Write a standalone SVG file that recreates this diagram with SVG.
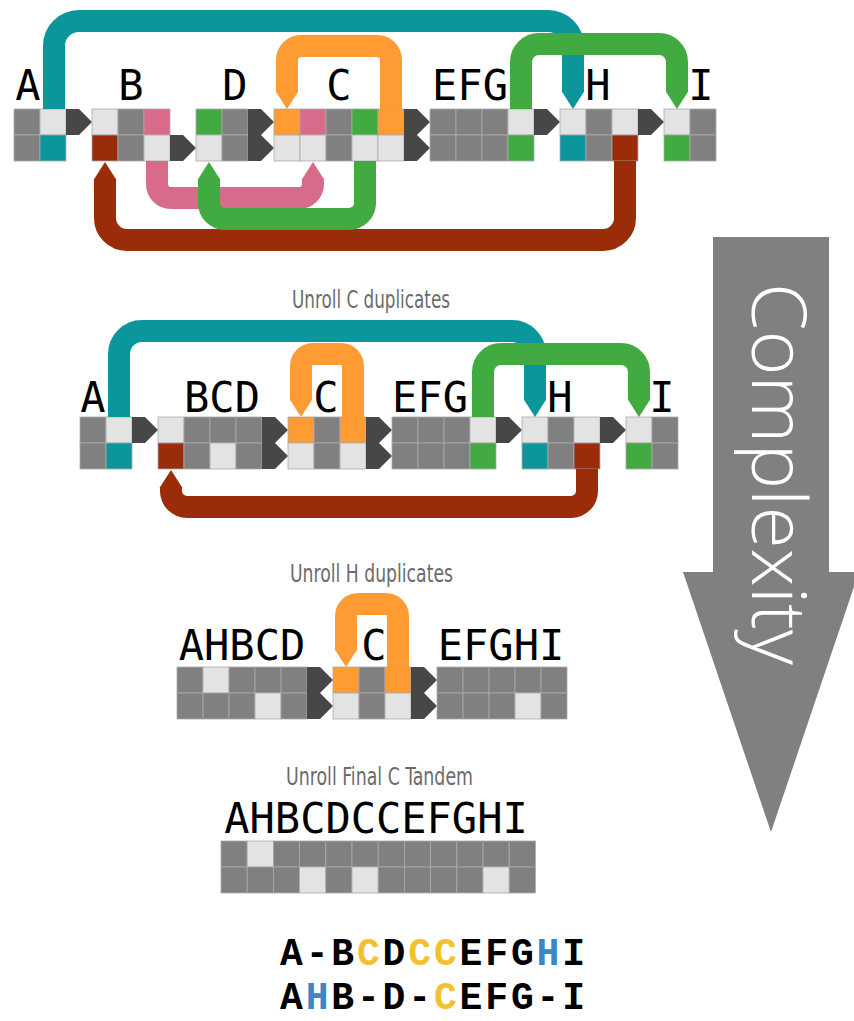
<svg xmlns="http://www.w3.org/2000/svg" xmlns:xlink="http://www.w3.org/1999/xlink" width="854" height="1021" viewBox="0 0 854 1021">
  <style>
    rect{stroke:#ababab;stroke-width:0.8}
    .g{fill:#808080}
    .l{fill:#e3e3e3}
    .te{fill:#0b969c}
    .or{fill:#fe9b33}
    .gr{fill:#41ab42}
    .pk{fill:#d76b89}
    .rd{fill:#9a2c0a}
    .ar{fill:#474747}
    .band{fill:none;stroke-width:22;stroke-linecap:butt}
    .s-te{stroke:#0b969c}
    .s-or{stroke:#fe9b33}
    .s-gr{stroke:#41ab42}
    .s-pk{stroke:#d76b89}
    .s-rd{stroke:#9a2c0a}
    .lbl{font-family:"DejaVu Sans Mono","Liberation Mono",monospace;font-size:42px;fill:#000;text-anchor:middle}
    .ttl{font-family:"Liberation Sans Narrow","DejaVu Sans Condensed","Roboto Condensed",sans-serif;font-size:24px;fill:#6b6b6b}
    .seq{font-family:"Liberation Mono","Courier New",monospace;font-weight:bold;font-size:38px;fill:#000}
    .hc{fill:#f3c12f}
    .hh{fill:#3d87c9}
  </style>
  <defs>
    <path id="arw" d="M0,0H13L26,13L13,26H0Z"/>
    <path id="tipDown" d="M-11.5,0H11.5L0,18Z"/>
    <path id="tipUp" d="M-11.5,0H11.5L0,-18Z"/>
  </defs>

  <!-- ===== Row 1: full graph ===== -->
  <g id="r1-A">
    <rect class="g" x="14" y="109" width="26" height="26"/><rect class="g" x="14" y="135" width="26" height="26"/>
    <rect class="l" x="40" y="109" width="26" height="26"/><rect class="te" x="40" y="135" width="26" height="26"/>
    <use href="#arw" class="ar" x="66" y="109"/>
    <text class="lbl" x="28" y="100">A</text>
  </g>
  <g id="r1-B">
    <rect class="l" x="92" y="109" width="26" height="26"/><rect class="rd" x="92" y="135" width="26" height="26"/>
    <rect class="g" x="118" y="109" width="26" height="26"/><rect class="g" x="118" y="135" width="26" height="26"/>
    <rect class="pk" x="144" y="109" width="26" height="26"/><rect class="l" x="144" y="135" width="26" height="26"/>
    <use href="#arw" class="ar" x="170" y="135"/>
    <text class="lbl" x="131" y="100">B</text>
  </g>
  <g id="r1-D">
    <rect class="gr" x="196" y="109" width="26" height="26"/><rect class="l" x="196" y="135" width="26" height="26"/>
    <rect class="g" x="222" y="109" width="26" height="26"/><rect class="g" x="222" y="135" width="26" height="26"/>
    <use href="#arw" class="ar" x="248" y="109"/><use href="#arw" class="ar" x="248" y="135"/>
    <text class="lbl" x="235" y="100">D</text>
  </g>
  <g id="r1-C">
    <rect class="or" x="274" y="109" width="26" height="26"/><rect class="l" x="274" y="135" width="26" height="26"/>
    <rect class="pk" x="300" y="109" width="26" height="26"/><rect class="l" x="300" y="135" width="26" height="26"/>
    <rect class="g" x="326" y="109" width="26" height="26"/><rect class="g" x="326" y="135" width="26" height="26"/>
    <rect class="gr" x="352" y="109" width="26" height="26"/><rect class="l" x="352" y="135" width="26" height="26"/>
    <rect class="or" x="378" y="109" width="26" height="26"/><rect class="l" x="378" y="135" width="26" height="26"/>
    <use href="#arw" class="ar" x="404" y="109"/><use href="#arw" class="ar" x="404" y="135"/>
    <text class="lbl" x="339" y="100">C</text>
  </g>
  <g id="r1-EFG">
    <rect class="g" x="430" y="109" width="26" height="26"/><rect class="g" x="430" y="135" width="26" height="26"/>
    <rect class="g" x="456" y="109" width="26" height="26"/><rect class="g" x="456" y="135" width="26" height="26"/>
    <rect class="g" x="482" y="109" width="26" height="26"/><rect class="g" x="482" y="135" width="26" height="26"/>
    <rect class="l" x="508" y="109" width="26" height="26"/><rect class="gr" x="508" y="135" width="26" height="26"/>
    <use href="#arw" class="ar" x="534" y="109"/>
    <text class="lbl" x="470" y="100">EFG</text>
  </g>
  <g id="r1-H">
    <rect class="l" x="560" y="109" width="26" height="26"/><rect class="te" x="560" y="135" width="26" height="26"/>
    <rect class="g" x="586" y="109" width="26" height="26"/><rect class="g" x="586" y="135" width="26" height="26"/>
    <rect class="l" x="612" y="109" width="26" height="26"/><rect class="rd" x="612" y="135" width="26" height="26"/>
    <use href="#arw" class="ar" x="638" y="109"/>
    <text class="lbl" x="598" y="100">H</text>
  </g>
  <g id="r1-I">
    <rect class="l" x="664" y="109" width="26" height="26"/><rect class="gr" x="664" y="135" width="26" height="26"/>
    <rect class="g" x="690" y="109" width="26" height="26"/><rect class="g" x="690" y="135" width="26" height="26"/>
    <text class="lbl" x="701" y="100">I</text>
  </g>

  <!-- ===== Row 2: C duplicates unrolled ===== -->
  <text class="ttl" x="292" y="308" textLength="158" lengthAdjust="spacingAndGlyphs">Unroll C duplicates</text>
  <g id="r2-A">
    <rect class="g" x="80" y="417" width="26" height="26"/><rect class="g" x="80" y="443" width="26" height="26"/>
    <rect class="l" x="106" y="417" width="26" height="26"/><rect class="te" x="106" y="443" width="26" height="26"/>
    <use href="#arw" class="ar" x="132" y="417"/>
    <text class="lbl" x="93" y="412">A</text>
  </g>
  <g id="r2-BCD">
    <rect class="l" x="158" y="417" width="26" height="26"/><rect class="rd" x="158" y="443" width="26" height="26"/>
    <rect class="g" x="184" y="417" width="26" height="26"/><rect class="g" x="184" y="443" width="26" height="26"/>
    <rect class="g" x="210" y="417" width="26" height="26"/><rect class="l" x="210" y="443" width="26" height="26"/>
    <rect class="g" x="236" y="417" width="26" height="26"/><rect class="g" x="236" y="443" width="26" height="26"/>
    <use href="#arw" class="ar" x="262" y="417"/><use href="#arw" class="ar" x="262" y="443"/>
    <text class="lbl" x="222" y="412">BCD</text>
  </g>
  <g id="r2-C">
    <rect class="or" x="288" y="417" width="26" height="26"/><rect class="l" x="288" y="443" width="26" height="26"/>
    <rect class="g" x="314" y="417" width="26" height="26"/><rect class="g" x="314" y="443" width="26" height="26"/>
    <rect class="or" x="340" y="417" width="26" height="26"/><rect class="l" x="340" y="443" width="26" height="26"/>
    <use href="#arw" class="ar" x="366" y="417"/><use href="#arw" class="ar" x="366" y="443"/>
    <text class="lbl" x="326" y="412">C</text>
  </g>
  <g id="r2-EFG">
    <rect class="g" x="392" y="417" width="26" height="26"/><rect class="g" x="392" y="443" width="26" height="26"/>
    <rect class="g" x="418" y="417" width="26" height="26"/><rect class="g" x="418" y="443" width="26" height="26"/>
    <rect class="g" x="444" y="417" width="26" height="26"/><rect class="g" x="444" y="443" width="26" height="26"/>
    <rect class="l" x="470" y="417" width="26" height="26"/><rect class="gr" x="470" y="443" width="26" height="26"/>
    <use href="#arw" class="ar" x="496" y="417"/>
    <text class="lbl" x="430" y="412">EFG</text>
  </g>
  <g id="r2-H">
    <rect class="l" x="522" y="417" width="26" height="26"/><rect class="te" x="522" y="443" width="26" height="26"/>
    <rect class="g" x="548" y="417" width="26" height="26"/><rect class="g" x="548" y="443" width="26" height="26"/>
    <rect class="l" x="574" y="417" width="26" height="26"/><rect class="rd" x="574" y="443" width="26" height="26"/>
    <use href="#arw" class="ar" x="600" y="417"/>
    <text class="lbl" x="560" y="412">H</text>
  </g>
  <g id="r2-I">
    <rect class="l" x="626" y="417" width="26" height="26"/><rect class="gr" x="626" y="443" width="26" height="26"/>
    <rect class="g" x="652" y="417" width="26" height="26"/><rect class="g" x="652" y="443" width="26" height="26"/>
    <text class="lbl" x="662" y="412">I</text>
  </g>

  <!-- ===== Row 3: H duplicates unrolled ===== -->
  <text class="ttl" x="290" y="582" textLength="163" lengthAdjust="spacingAndGlyphs">Unroll H duplicates</text>
  <g id="r3-AHBCD">
    <rect class="g" x="177" y="667" width="26" height="26"/><rect class="g" x="177" y="693" width="26" height="26"/>
    <rect class="l" x="203" y="667" width="26" height="26"/><rect class="g" x="203" y="693" width="26" height="26"/>
    <rect class="g" x="229" y="667" width="26" height="26"/><rect class="g" x="229" y="693" width="26" height="26"/>
    <rect class="g" x="255" y="667" width="26" height="26"/><rect class="l" x="255" y="693" width="26" height="26"/>
    <rect class="g" x="281" y="667" width="26" height="26"/><rect class="g" x="281" y="693" width="26" height="26"/>
    <use href="#arw" class="ar" x="307" y="667"/><use href="#arw" class="ar" x="307" y="693"/>
    <text class="lbl" x="242" y="660">AHBCD</text>
  </g>
  <g id="r3-C">
    <rect class="or" x="333" y="667" width="26" height="26"/><rect class="l" x="333" y="693" width="26" height="26"/>
    <rect class="g" x="359" y="667" width="26" height="26"/><rect class="g" x="359" y="693" width="26" height="26"/>
    <rect class="or" x="385" y="667" width="26" height="26"/><rect class="l" x="385" y="693" width="26" height="26"/>
    <use href="#arw" class="ar" x="411" y="667"/><use href="#arw" class="ar" x="411" y="693"/>
    <text class="lbl" x="374" y="660">C</text>
  </g>
  <g id="r3-EFGHI">
    <rect class="g" x="437" y="667" width="26" height="26"/><rect class="g" x="437" y="693" width="26" height="26"/>
    <rect class="g" x="463" y="667" width="26" height="26"/><rect class="g" x="463" y="693" width="26" height="26"/>
    <rect class="g" x="489" y="667" width="26" height="26"/><rect class="g" x="489" y="693" width="26" height="26"/>
    <rect class="g" x="515" y="667" width="26" height="26"/><rect class="l" x="515" y="693" width="26" height="26"/>
    <rect class="g" x="541" y="667" width="26" height="26"/><rect class="g" x="541" y="693" width="26" height="26"/>
    <text class="lbl" x="501" y="660">EFGHI</text>
  </g>

  <!-- ===== Row 4: final tandem unrolled ===== -->
  <text class="ttl" x="286" y="785" textLength="187" lengthAdjust="spacingAndGlyphs">Unroll Final C Tandem</text>
  <g id="r4-linear">
    <rect class="g" x="221" y="841" width="26.2" height="26"/><rect class="g" x="221" y="867" width="26.2" height="26"/>
    <rect class="l" x="247.2" y="841" width="26.2" height="26"/><rect class="g" x="247.2" y="867" width="26.2" height="26"/>
    <rect class="g" x="273.4" y="841" width="26.2" height="26"/><rect class="g" x="273.4" y="867" width="26.2" height="26"/>
    <rect class="g" x="299.6" y="841" width="26.2" height="26"/><rect class="l" x="299.6" y="867" width="26.2" height="26"/>
    <rect class="g" x="325.8" y="841" width="26.2" height="26"/><rect class="g" x="325.8" y="867" width="26.2" height="26"/>
    <rect class="g" x="352" y="841" width="26.2" height="26"/><rect class="l" x="352" y="867" width="26.2" height="26"/>
    <rect class="g" x="378.2" y="841" width="26.2" height="26"/><rect class="g" x="378.2" y="867" width="26.2" height="26"/>
    <rect class="g" x="404.4" y="841" width="26.2" height="26"/><rect class="g" x="404.4" y="867" width="26.2" height="26"/>
    <rect class="g" x="430.6" y="841" width="26.2" height="26"/><rect class="g" x="430.6" y="867" width="26.2" height="26"/>
    <rect class="g" x="456.8" y="841" width="26.2" height="26"/><rect class="g" x="456.8" y="867" width="26.2" height="26"/>
    <rect class="g" x="483" y="841" width="26.2" height="26"/><rect class="l" x="483" y="867" width="26.2" height="26"/>
    <rect class="g" x="509.2" y="841" width="26.2" height="26"/><rect class="g" x="509.2" y="867" width="26.2" height="26"/>
    <text class="lbl" x="376" y="833">AHBCDCCEFGHI</text>
  </g>

  <!-- ===== Connectors (links between segments) ===== -->
  <g id="connectors">
    <!-- row 1 -->
    <path class="band s-rd" d="M625,161 V218 A22,22 0 0 1 603,240 H127 A22,22 0 0 1 105,218 V179"/>
    <use href="#tipUp" class="rd" x="105" y="180"/>
    <path class="band s-pk" d="M157,161 V184 A14,14 0 0 0 171,198 H299 A14,14 0 0 0 313,184 V179"/>
    <use href="#tipUp" class="pk" x="313" y="180"/>
    <path class="band s-gr" d="M365,161 V203 A16,16 0 0 1 349,219 H225 A16,16 0 0 1 209,203 V179"/>
    <use href="#tipUp" class="gr" x="209" y="180"/>
    <path class="band s-te" d="M54,109 V46 A25,25 0 0 1 79,21 H548 A25,25 0 0 1 573,46 V92"/>
    <use href="#tipDown" class="te" x="573" y="91"/>
    <path class="band s-or" d="M391,109 V60 A14,14 0 0 0 377,46 H301 A14,14 0 0 0 287,60 V92"/>
    <use href="#tipDown" class="or" x="287" y="91"/>
    <path class="band s-gr" d="M521,109 V62 A18,18 0 0 1 539,44 H659 A18,18 0 0 1 677,62 V92"/>
    <use href="#tipDown" class="gr" x="677" y="91"/>

    <!-- row 2 -->
    <path class="band s-rd" d="M587,469 V491 A16,16 0 0 1 571,507 H187 A16,16 0 0 1 171,491 V487"/>
    <use href="#tipUp" class="rd" x="171" y="488"/>
    <path class="band s-te" d="M119,417 V354 A23,23 0 0 1 142,331 H512 A23,23 0 0 1 535,354 V400"/>
    <use href="#tipDown" class="te" x="535" y="399"/>
    <path class="band s-or" d="M353,417 V366 A12,12 0 0 0 341,354 H313 A12,12 0 0 0 301,366 V400"/>
    <use href="#tipDown" class="or" x="301" y="399"/>
    <path class="band s-gr" d="M483,417 V372 A18,18 0 0 1 501,354 H621 A18,18 0 0 1 639,372 V400"/>
    <use href="#tipDown" class="gr" x="639" y="399"/>

    <!-- row 3 -->
    <path class="band s-or" d="M398,667 V616 A12,12 0 0 0 386,604 H358 A12,12 0 0 0 346,616 V650"/>
    <use href="#tipDown" class="or" x="346" y="649"/>
  </g>

  <!-- ===== Complexity arrow ===== -->
  <g id="complexity">
    <polygon fill="#808080" points="713,237 829,237 829,572 859,572 771,832 683,572 713,572"/>
    <text transform="translate(752,283) rotate(90)" x="0" y="0" font-family="'Open Sans','Noto Sans',sans-serif" font-weight="300" font-size="76" fill="#ffffff" textLength="382" lengthAdjust="spacingAndGlyphs">Complexity</text>
  </g>

  <!-- ===== Resulting sequences ===== -->
  <g id="sequences">
    <text class="seq" x="280" y="965" textLength="305" lengthAdjust="spacing">A-B<tspan class="hc">C</tspan>D<tspan class="hc">CC</tspan>EFG<tspan class="hh">H</tspan>I</text>
    <text class="seq" x="280" y="1009" textLength="305" lengthAdjust="spacing">A<tspan class="hh">H</tspan>B-D-<tspan class="hc">C</tspan>EFG-I</text>
  </g>
</svg>
